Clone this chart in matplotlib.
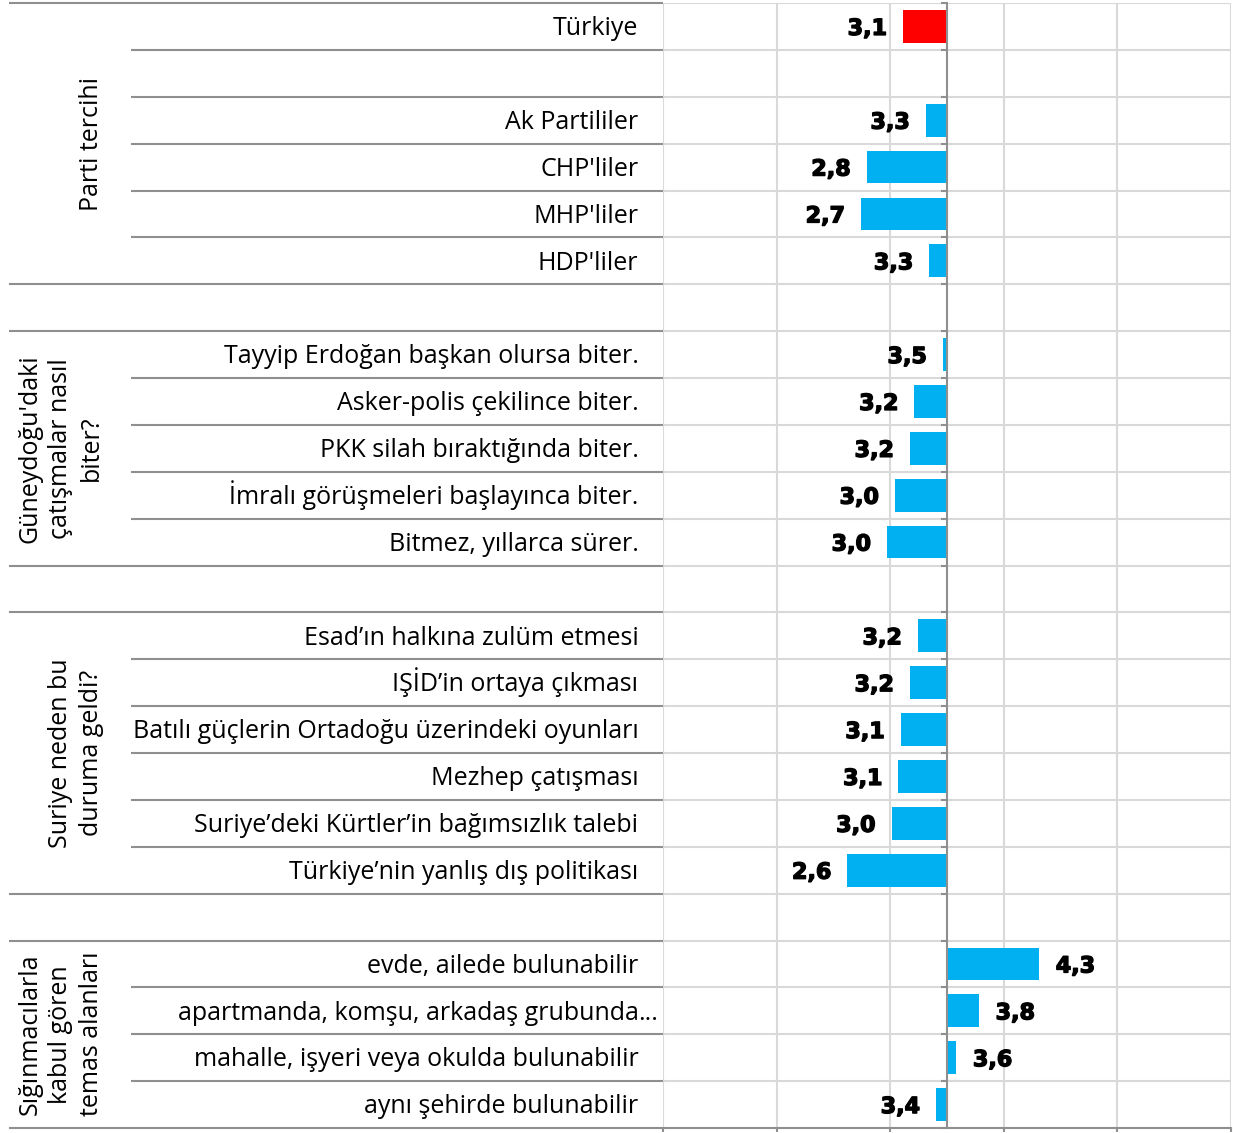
import numpy as np
import matplotlib.pyplot as plt
from matplotlib import patheffects

# rows from top to bottom; "" = empty spacer row
categories = [
    "Türkiye", "", "Ak Partililer", "CHP'liler", "MHP'liler", "HDP'liler",
    "",
    "Tayyip Erdoğan başkan olursa biter.", "Asker-polis çekilince biter.",
    "PKK silah bıraktığında biter.", "İmralı görüşmeleri başlayınca biter.",
    "Bitmez, yıllarca sürer.",
    "",
    "Esad’ın halkına zulüm etmesi", "IŞİD’in ortaya çıkması",
    "Batılı güçlerin Ortadoğu üzerindeki oyunları", "Mezhep çatışması",
    "Suriye’deki Kürtler’in bağımsızlık talebi", "Türkiye’nin yanlış dış politikası",
    "",
    "evde, ailede bulunabilir", "apartmanda, komşu, arkadaş grubunda...",
    "mahalle, işyeri veya okulda bulunabilir", "aynı şehirde bulunabilir",
]
values = [
    3.11, np.nan, 3.31, 2.79, 2.74, 3.34,
    np.nan,
    3.46, 3.21, 3.17, 3.04, 2.97,
    np.nan,
    3.24, 3.17, 3.09, 3.07, 3.01, 2.62,
    np.nan,
    4.31, 3.78, 3.58, 3.40,
]
group_names = [
    "Parti tercihi", "", "Güneydoğu'daki\nçatışmalar nasıl\nbiter?", "",
    "Suriye neden bu\nduruma geldi?", "", "Sığınmacılarla\nkabul gören\ntemas alanları",
]
group_sizes = [6, 1, 5, 1, 6, 1, 4]
midpoint = 3.5
highlight = "Türkiye"

W, H = 1233, 1133
fig = plt.figure(figsize=(W / 100, H / 100), dpi=100)
x0, x1, ytop, ybot = 663.3, 1231, 3, 1128
ax = fig.add_axes([x0 / W, (H - ybot) / H, (x1 - x0) / W, (ybot - ytop) / H])

n = len(categories)
y = np.arange(n)
vals = np.array(values)
colors = ["#FF0000" if c == highlight else "#00B0F0" for c in categories]
ax.barh(y, vals - midpoint, left=midpoint, height=0.7, color=colors, zorder=2)

ax.set_xlim(1, 6)
ax.set_ylim(n - 0.5, -0.5)

grid_c = "#d9d9d9"
line_c = "#8f8f8f"
ax.set_xticks(range(1, 7))
ax.xaxis.grid(True, color=grid_c, lw=1.5, zorder=0)
ax.hlines(np.arange(n) - 0.5, 1, 6, color=grid_c, lw=1.5, zorder=0)
ax.set_axisbelow(True)
ax.tick_params(axis="x", length=3, width=1.5, color=line_c, labelbottom=False)

ax.spines["left"].set_position(("data", midpoint))
ax.spines["left"].set_color(line_c)
ax.spines["left"].set_linewidth(1.5)
ax.spines["bottom"].set_color(line_c)
ax.spines["bottom"].set_linewidth(1.5)
ax.spines["top"].set_visible(False)
ax.spines["right"].set_visible(False)
ax.set_yticks(np.arange(n + 1) - 0.5)
ax.tick_params(axis="y", length=4.5, width=1.5, color=line_c, labelleft=False)

row_px = (ybot - ytop) / n

# value labels
heavy = [patheffects.withStroke(linewidth=1.0, foreground="black")]
for yi, v in zip(y, vals):
    if np.isnan(v):
        continue
    txt = f"{v:.1f}".replace(".", ",")
    off = -11.5 if v < midpoint else 12
    ax.annotate(txt, (v, yi + 8.5 / row_px), xytext=(off, 0), textcoords="offset points",
                ha="right" if v < midpoint else "left", va="baseline",
                fontsize=16, fontweight="bold", family="DejaVu Sans",
                path_effects=heavy)

# category labels and table lines on the left
tr = ax.get_yaxis_transform()
axw = x1 - x0
lab_x = (638.5 - x0) / axw
full_x = (9 - x0) / axw
inner_x = (131 - x0) / axw
font = dict(fontsize=18, family=["Open Sans", "DejaVu Sans"])
base = 8.8 / row_px
for yi, c in zip(y, categories):
    if c.endswith("..."):
        ax.text(lab_x, yi + base, c[:-3], transform=tr, ha="right", va="baseline", **font)
        ax.text(lab_x, yi + base, "...", transform=tr, ha="left", va="baseline", **font)
    else:
        ax.text(lab_x, yi + base, c, transform=tr, ha="right", va="baseline", **font)

bounds = np.cumsum([0] + group_sizes)
for b in range(n + 1):
    start = full_x if b in bounds else inner_x
    ax.plot([start, 0], [b - 0.5, b - 0.5], transform=tr, color=line_c,
            lw=1.5, clip_on=False, solid_capstyle="butt")

glab_x = (104 - x0) / axw
for name, b0, size in zip(group_names, bounds[:-1], group_sizes):
    if name:
        ax.text(glab_x, b0 - 0.5 + size / 2, name, transform=tr, rotation=90,
                ha="right", va="center", multialignment="center",
                linespacing=1.3, **font)

fig.savefig("out.png", dpi=100)
